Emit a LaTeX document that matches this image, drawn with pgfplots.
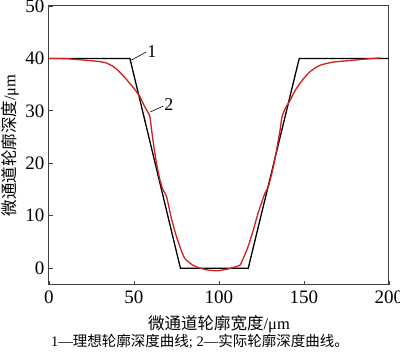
\documentclass[border=0pt]{standalone}
\usepackage{pgfplots}
\pgfplotsset{compat=1.18}
\usepackage{fontspec}
\setmainfont{Liberation Serif}
\newfontfamily\cjk{Noto Sans CJK SC}
\definecolor{curvered}{RGB}{210,30,30}
\begin{document}
\begin{tikzpicture}
\useasboundingbox (-49pt,-73pt) rectangle (351pt,285pt);
\begin{axis}[
  at={(0pt,0pt)}, anchor=south west,
  scale only axis, width=340pt, height=279pt,
  xmin=0, xmax=200, ymin=-3.2, ymax=50,
  xtick={0,50,100,150,200}, ytick={0,10,20,30,40,50},
  tick pos=left, tick align=inside,
  major tick length=4pt,
  axis line style={line width=1pt, black!75},
  tick style={line width=0.8pt, black!75},
  /pgf/number format/assume math mode=true,
  ticklabel style={font=\fontsize{19}{19}\selectfont},
  xticklabel style={yshift=-2pt},
  yticklabel style={xshift=-1pt},
  xlabel={\cjk 微通道轮廓宽度\rmfamily/μm},
  ylabel={\cjk 微通道轮廓深度\rmfamily/μm},
  label style={font=\fontsize{16.5}{16.5}\selectfont},
  xlabel style={at={(axis description cs:0.5,0)}, anchor=north, yshift=-27pt},
  ylabel style={at={(axis description cs:0,0.5)}, anchor=south, yshift=26.5pt},
  clip=false,
]
\addplot[black, line width=1.3pt] coordinates {
(0,40) (47.6,40) (77.3,0) (117.2,0) (147.2,40) (200,40)
};
\addplot[curvered, line width=1.3pt, smooth, tension=0.3] coordinates {
(0,40) (10,39.95) (20,39.7) (30,39.4) (34,39.1) (37,38.6) (40,37.9) (44,36.6)
(47.6,35.2) (50,34.3) (53.5,32.7) (56,31) (58.4,29.6) (59.4,28.8) (60.5,26)
(62,22.5) (63.5,19.5) (65.3,16.8) (67,15) (69.2,13.6) (72,9.5) (75,6)
(78,3.2) (80,1.8) (82,1.2) (85,0.5) (88,0.1) (92.7,-0.3) (98.6,-0.5)
(104.5,-0.2) (110,0.3) (112.4,0.6) (114.3,1.9) (117,4) (120.2,7.3) (123,10.5)
(127,14.3) (129,15.5) (132,19.4) (134,22.8) (136,26.5) (137,28.8) (139,30.5)
(141.8,32) (145,34) (149.6,36.1) (154,37.6) (159.4,38.7) (167,39.3)
(177,39.6) (187,39.9) (195,40.1)
};
\draw[black, line width=0.6pt] (axis cs:48.5,39.7) -- (axis cs:57.1,41.2);
\node[anchor=west, inner sep=0pt, font=\fontsize{18}{18}\selectfont] at (axis cs:57.8,41.4) {1};
\draw[black, line width=0.6pt] (axis cs:59.6,29.8) -- (axis cs:67.1,30.9);
\node[anchor=west, inner sep=0pt, font=\fontsize{18}{18}\selectfont] at (axis cs:67.8,31.2) {2};
\end{axis}
\node[font=\fontsize{14.5}{14.5}\selectfont] at (151pt,-56pt) {1—{\cjk 理想轮廓深度曲线}; 2—{\cjk 实际轮廓深度曲线。}};
\end{tikzpicture}
\end{document}
